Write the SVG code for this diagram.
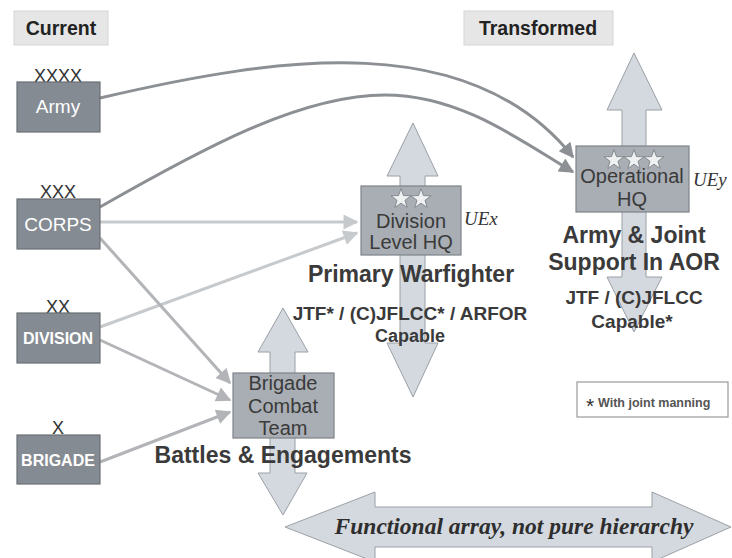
<svg xmlns="http://www.w3.org/2000/svg" width="732" height="558" viewBox="0 0 732 558">
  <defs>
    <style>
      text { font-family: "Liberation Sans", Arial, sans-serif; }
      .lbl { fill: #e6e6e6; stroke: #d6d6d6; stroke-width: 1; }
      .lbltxt { font-size: 19.5px; font-weight: bold; fill: #222; text-anchor: middle; }
      .cur { fill: #858b92; stroke: #6b7075; stroke-width: 1.2; }
      .curtxt { fill: #fff; text-anchor: middle; }
      .ech { font-size: 18px; fill: #333; text-anchor: middle; }
      .hq { fill: #a9aeb4; stroke: #7d8288; stroke-width: 1.2; }
      .hqtxt { font-size: 20px; fill: #3a3a3a; text-anchor: middle; }
      .big { fill: #d4d9df; stroke: #9aa0a6; stroke-width: 1; }
      .head { font-weight: bold; fill: #3a3a3a; text-anchor: middle; }
      .ue { font-family: "Liberation Serif", "Times New Roman", serif; font-style: italic; font-size: 19px; fill: #333; }
      .func { font-family: "Liberation Serif", "Times New Roman", serif; font-style: italic; font-weight: bold; font-size: 23.5px; fill: #2e2e2e; text-anchor: middle; }
      .star { fill: #eef0f2; stroke: #7d8288; stroke-width: 0.9; }
      .dark { fill: none; stroke: #8c8f93; stroke-width: 3; }
      .light { fill: none; stroke: #c7cacd; stroke-width: 3; }
      .mid { fill: none; stroke: #b2b4b8; stroke-width: 3; }
    </style>
    <path id="star" d="M0,-10.5 L2.47,-3.4 L9.99,-3.24 L3.99,1.3 L6.17,8.49 L0,4.2 L-6.17,8.49 L-3.99,1.3 L-9.99,-3.24 L-2.47,-3.4 Z"/>
    <marker id="mDark" viewBox="0 0 10 10" refX="9" refY="5" markerWidth="5.5" markerHeight="5" markerUnits="strokeWidth" orient="auto">
      <path d="M0,0 L10,5 L0,10 Z" fill="#8c8f93"/>
    </marker>
    <marker id="mLight" viewBox="0 0 10 10" refX="9" refY="5" markerWidth="5.5" markerHeight="5" markerUnits="strokeWidth" orient="auto">
      <path d="M0,0 L10,5 L0,10 Z" fill="#c7cacd"/>
    </marker>
    <marker id="mMid" viewBox="0 0 10 10" refX="9" refY="5" markerWidth="5.5" markerHeight="5" markerUnits="strokeWidth" orient="auto">
      <path d="M0,0 L10,5 L0,10 Z" fill="#b2b4b8"/>
    </marker>
  </defs>

  <rect width="732" height="558" fill="#ffffff"/>

  <!-- Column labels -->
  <g id="current-label">
    <rect class="lbl" x="14" y="11" width="94" height="34"/>
    <text class="lbltxt" x="61" y="35">Current</text>
  </g>
  <g id="transformed-label">
    <rect class="lbl" x="464" y="11" width="149" height="34"/>
    <text class="lbltxt" x="538" y="35">Transformed</text>
  </g>

  <!-- Big functional arrow -->
  <g id="functional-array">
    <polygon class="big" points="285,527 375,492 375,507 652,507 652,492 731,527 652,562 652,547 375,547 375,562"/>
    <text class="func" x="514" y="534">Functional array, not pure hierarchy</text>
  </g>

  <!-- Connectors -->
  <g id="connectors">
    <path class="dark" d="M100,98 C280,56 470,28 573,157" marker-end="url(#mDark)"/>
    <path class="dark" d="M100,207 C200,150 300,95 385,95 C460,95 520,140 573,172" marker-end="url(#mDark)"/>
    <path class="light" d="M100,222 L357,222" marker-end="url(#mLight)"/>
    <path class="light" d="M100,327 L357,233" marker-end="url(#mLight)"/>
    <path class="mid" d="M100,238 L230,383" marker-end="url(#mMid)"/>
    <path class="mid" d="M100,340 L230,400" marker-end="url(#mMid)"/>
    <path class="mid" d="M100,462 L230,412" marker-end="url(#mMid)"/>
  </g>

  <!-- Current nodes -->
  <g id="army">
    <text class="ech" x="58" y="82">XXXX</text>
    <rect class="cur" x="17" y="82" width="83" height="50"/>
    <text class="curtxt" x="58" y="113" font-size="19">Army</text>
  </g>
  <g id="corps">
    <text class="ech" x="58" y="198">XXX</text>
    <rect class="cur" x="17" y="199" width="83" height="50"/>
    <text class="curtxt" x="58" y="231" font-size="19">CORPS</text>
  </g>
  <g id="division">
    <text class="ech" x="58" y="313">XX</text>
    <rect class="cur" x="17" y="313" width="83" height="50"/>
    <text class="curtxt" x="58" y="344" font-size="16" font-weight="bold">DIVISION</text>
  </g>
  <g id="brigade">
    <text class="ech" x="58" y="434">X</text>
    <rect class="cur" x="17" y="435" width="83" height="49"/>
    <text class="curtxt" x="58" y="466" font-size="16" font-weight="bold">BRIGADE</text>
  </g>

  <!-- Division Level HQ (UEx) -->
  <g id="division-hq">
    <polygon class="big" points="413,123 438,176 425,176 425,343 438,343 413,397 387,343 400,343 400,176 387,176"/>
    <rect class="hq" x="361" y="186" width="100" height="69"/>
    <use href="#star" class="star" x="401" y="199"/>
    <use href="#star" class="star" x="421" y="199"/>
    <text class="hqtxt" x="411" y="228">Division</text>
    <text class="hqtxt" x="411" y="249">Level HQ</text>
    <text class="ue" x="464" y="225">UEx</text>
    <text class="head" x="411" y="282" font-size="23">Primary Warfighter</text>
    <text class="head" x="410" y="320" font-size="19">JTF* / (C)JFLCC* / ARFOR</text>
    <text class="head" x="410" y="342" font-size="18">Capable</text>
  </g>

  <!-- Operational HQ (UEy) -->
  <g id="operational-hq">
    <polygon class="big" points="634,53 662,110 646,110 646,277 662,277 634,332 607,277 622,277 622,110 607,110"/>
    <rect class="hq" x="576" y="146" width="113" height="66"/>
    <use href="#star" class="star" x="614" y="160"/>
    <use href="#star" class="star" x="634" y="160"/>
    <use href="#star" class="star" x="654" y="160"/>
    <text class="hqtxt" x="632" y="183">Operational</text>
    <text class="hqtxt" x="632" y="206">HQ</text>
    <text class="ue" x="693" y="186">UEy</text>
    <text class="head" x="634" y="243" font-size="23">Army &amp; Joint</text>
    <text class="head" x="634" y="270" font-size="23">Support In AOR</text>
    <text class="head" x="634" y="304" font-size="19">JTF / (C)JFLCC</text>
    <text class="head" x="632" y="328" font-size="19">Capable*</text>
  </g>

  <!-- Brigade Combat Team -->
  <g id="bct">
    <polygon class="big" points="283,308 308,352 295,352 295,473 307,473 283,515 258,473 270,473 270,352 258,352"/>
    <rect class="hq" x="233" y="373" width="101" height="65"/>
    <text class="hqtxt" x="283" y="390">Brigade</text>
    <text class="hqtxt" x="283" y="413">Combat</text>
    <text class="hqtxt" x="283" y="435">Team</text>
    <text class="head" x="283" y="463" font-size="23">Battles &amp; Engagements</text>
  </g>

  <!-- Footnote -->
  <g id="footnote">
    <rect x="577" y="382" width="151" height="35" fill="#ffffff" stroke="#9a9a9a" stroke-width="1.2"/>
    <text x="590" y="413" font-size="21" fill="#333" text-anchor="middle">*</text>
    <text x="598" y="407" font-size="12.5" font-weight="bold" fill="#555">With joint manning</text>
  </g>
</svg>
